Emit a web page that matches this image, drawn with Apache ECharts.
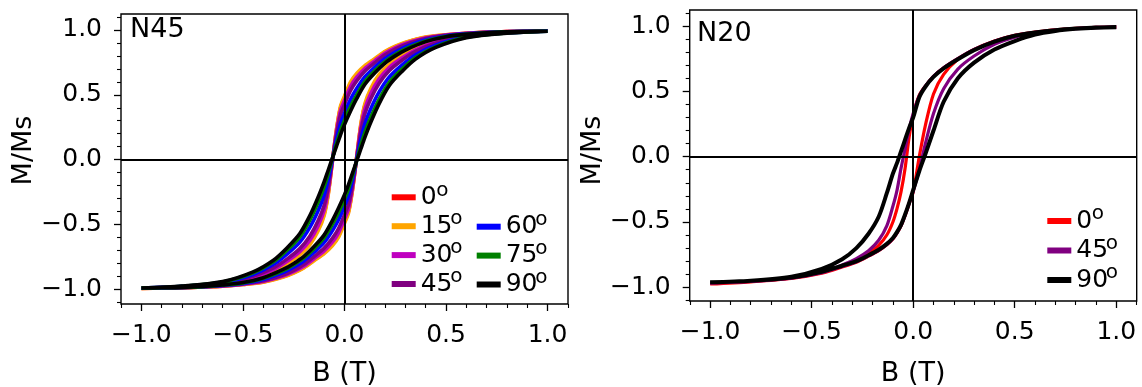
<!DOCTYPE html>
<html>
<head>
<meta charset="utf-8">
<title>Normalised hysteresis loops N45 / N20</title>
<script src="https://cdn.jsdelivr.net/npm/echarts@6.0.0/dist/echarts.min.js"></script>
<style>
  html, body { margin: 0; padding: 0; background: #fff; }
  #chart { width: 1142px; height: 387px; }
</style>
</head>
<body>
<div id="chart"></div>
<script>
// ---------- N45: field grid for the descending (+1 -> -1) and ascending (-1 -> +1) branches ----------
const n45FieldDown = [1.0, 0.9, 0.8, 0.7, 0.6, 0.5, 0.4, 0.3, 0.25, 0.2, 0.15, 0.1, 0.06, 0.03, 0.0, -0.02, -0.04, -0.06, -0.08, -0.1, -0.13, -0.17, -0.22, -0.28, -0.35, -0.45, -0.6, -0.8, -1.0];
const n45FieldUp   = [-1.0, -0.9, -0.8, -0.7, -0.6, -0.5, -0.4, -0.3, -0.25, -0.2, -0.15, -0.1, -0.06, -0.03, 0.0, 0.02, 0.04, 0.06, 0.08, 0.1, 0.13, 0.17, 0.22, 0.28, 0.35, 0.45, 0.6, 0.8, 1.0];

// M/Ms for each angle, descending branch then ascending branch
const n45Deg0Down  = [0.993, 0.990, 0.987, 0.982, 0.975, 0.962, 0.943, 0.902, 0.871, 0.831, 0.775, 0.718, 0.655, 0.589, 0.479, 0.399, 0.224, -0.019, -0.261, -0.417, -0.537, -0.644, -0.727, -0.794, -0.856, -0.913, -0.959, -0.980, -0.993];
const n45Deg0Up    = [-0.993, -0.990, -0.987, -0.982, -0.975, -0.962, -0.943, -0.902, -0.871, -0.831, -0.775, -0.718, -0.655, -0.589, -0.479, -0.399, -0.224, 0.019, 0.261, 0.417, 0.537, 0.644, 0.727, 0.794, 0.856, 0.913, 0.959, 0.980, 0.993];
const n45Deg15Down = [0.993, 0.990, 0.987, 0.982, 0.975, 0.963, 0.945, 0.905, 0.875, 0.835, 0.780, 0.725, 0.665, 0.600, 0.490, 0.410, 0.230, -0.020, -0.270, -0.430, -0.550, -0.655, -0.735, -0.800, -0.860, -0.915, -0.960, -0.980, -0.993];
const n45Deg15Up   = [-0.993, -0.990, -0.987, -0.982, -0.975, -0.963, -0.945, -0.905, -0.875, -0.835, -0.780, -0.725, -0.665, -0.600, -0.490, -0.410, -0.230, 0.020, 0.270, 0.430, 0.550, 0.655, 0.735, 0.800, 0.860, 0.915, 0.960, 0.980, 0.993];
const n45Deg30Down = [0.992, 0.990, 0.987, 0.981, 0.974, 0.961, 0.940, 0.896, 0.864, 0.822, 0.764, 0.703, 0.636, 0.566, 0.457, 0.377, 0.211, -0.016, -0.242, -0.391, -0.511, -0.621, -0.710, -0.781, -0.847, -0.908, -0.957, -0.979, -0.992];
const n45Deg30Up   = [-0.992, -0.990, -0.987, -0.981, -0.974, -0.961, -0.940, -0.896, -0.864, -0.822, -0.764, -0.703, -0.636, -0.566, -0.457, -0.377, -0.211, 0.016, 0.242, 0.391, 0.511, 0.621, 0.710, 0.781, 0.847, 0.908, 0.957, 0.979, 0.992];
const n45Deg45Down = [0.992, 0.989, 0.986, 0.981, 0.972, 0.958, 0.934, 0.887, 0.853, 0.808, 0.747, 0.682, 0.607, 0.533, 0.424, 0.344, 0.191, -0.011, -0.213, -0.352, -0.472, -0.588, -0.686, -0.763, -0.835, -0.900, -0.954, -0.979, -0.992];
const n45Deg45Up   = [-0.992, -0.989, -0.986, -0.981, -0.972, -0.958, -0.934, -0.887, -0.853, -0.808, -0.747, -0.682, -0.607, -0.533, -0.424, -0.344, -0.191, 0.011, 0.213, 0.352, 0.472, 0.588, 0.686, 0.763, 0.835, 0.900, 0.954, 0.979, 0.992];
const n45Deg60Down = [0.991, 0.989, 0.986, 0.980, 0.970, 0.954, 0.924, 0.869, 0.830, 0.781, 0.714, 0.638, 0.548, 0.465, 0.358, 0.278, 0.152, -0.002, -0.156, -0.274, -0.394, -0.520, -0.636, -0.725, -0.809, -0.885, -0.948, -0.977, -0.991];
const n45Deg60Up   = [-0.991, -0.989, -0.986, -0.980, -0.970, -0.954, -0.924, -0.869, -0.830, -0.781, -0.714, -0.638, -0.548, -0.465, -0.358, -0.278, -0.152, 0.002, 0.156, 0.274, 0.394, 0.520, 0.636, 0.725, 0.809, 0.885, 0.948, 0.977, 0.991];
const n45Deg75Down = [0.990, 0.988, 0.985, 0.979, 0.967, 0.950, 0.915, 0.854, 0.811, 0.758, 0.687, 0.602, 0.499, 0.409, 0.303, 0.223, 0.120, 0.006, -0.109, -0.209, -0.329, -0.464, -0.595, -0.694, -0.788, -0.872, -0.943, -0.976, -0.990];
const n45Deg75Up   = [-0.990, -0.988, -0.985, -0.979, -0.967, -0.950, -0.915, -0.854, -0.811, -0.758, -0.687, -0.602, -0.499, -0.409, -0.303, -0.223, -0.120, -0.006, 0.109, 0.209, 0.329, 0.464, 0.595, 0.694, 0.788, 0.872, 0.943, 0.976, 0.990];
const n45Deg90Down = [0.990, 0.988, 0.985, 0.978, 0.966, 0.948, 0.910, 0.845, 0.800, 0.745, 0.670, 0.580, 0.470, 0.375, 0.270, 0.190, 0.100, 0.010, -0.080, -0.170, -0.290, -0.430, -0.570, -0.675, -0.775, -0.865, -0.940, -0.975, -0.990];
const n45Deg90Up   = [-0.990, -0.988, -0.985, -0.978, -0.966, -0.948, -0.910, -0.845, -0.800, -0.745, -0.670, -0.580, -0.470, -0.375, -0.270, -0.190, -0.100, -0.010, 0.080, 0.170, 0.290, 0.430, 0.570, 0.675, 0.775, 0.865, 0.940, 0.975, 0.990];

// ---------- N20 ----------
const n20FieldDown = [1.0, 0.9, 0.8, 0.7, 0.6, 0.5, 0.4, 0.3, 0.22, 0.15, 0.1, 0.06, 0.03, 0.0, -0.02, -0.04, -0.06, -0.08, -0.1, -0.13, -0.17, -0.22, -0.28, -0.35, -0.45, -0.6, -0.8, -1.0];
const n20FieldUp   = [-1.0, -0.8, -0.6, -0.45, -0.35, -0.28, -0.22, -0.17, -0.13, -0.1, -0.08, -0.06, -0.04, -0.02, 0.0, 0.03, 0.06, 0.1, 0.15, 0.22, 0.3, 0.4, 0.5, 0.6, 0.7, 0.8, 0.9, 1.0];

const n20Deg0Down  = [0.992, 0.990, 0.982, 0.970, 0.953, 0.928, 0.885, 0.820, 0.750, 0.680, 0.615, 0.540, 0.470, 0.320, 0.150, -0.090, -0.270, -0.400, -0.500, -0.600, -0.680, -0.745, -0.800, -0.845, -0.892, -0.932, -0.958, -0.975];
const n20Deg0Up    = [-0.975, -0.958, -0.932, -0.892, -0.845, -0.808, -0.762, -0.720, -0.675, -0.630, -0.585, -0.530, -0.450, -0.360, -0.270, 0.000, 0.240, 0.480, 0.630, 0.745, 0.820, 0.885, 0.928, 0.953, 0.970, 0.982, 0.990, 0.992];
const n20Deg45Down = [0.991, 0.989, 0.981, 0.969, 0.952, 0.927, 0.884, 0.820, 0.750, 0.680, 0.615, 0.540, 0.465, 0.330, 0.210, 0.060, -0.090, -0.260, -0.380, -0.530, -0.640, -0.720, -0.780, -0.830, -0.885, -0.928, -0.955, -0.968];
const n20Deg45Up   = [-0.968, -0.955, -0.930, -0.888, -0.840, -0.805, -0.760, -0.718, -0.673, -0.628, -0.583, -0.528, -0.448, -0.358, -0.265, -0.100, 0.100, 0.330, 0.520, 0.670, 0.770, 0.860, 0.915, 0.948, 0.968, 0.980, 0.988, 0.991];
const n20Deg90Down = [0.990, 0.988, 0.980, 0.968, 0.950, 0.925, 0.880, 0.815, 0.745, 0.675, 0.610, 0.535, 0.455, 0.300, 0.220, 0.130, 0.040, -0.050, -0.130, -0.280, -0.460, -0.590, -0.700, -0.785, -0.860, -0.920, -0.950, -0.962];
const n20Deg90Up   = [-0.962, -0.950, -0.925, -0.882, -0.835, -0.800, -0.755, -0.713, -0.668, -0.623, -0.578, -0.522, -0.443, -0.353, -0.255, -0.110, 0.020, 0.200, 0.420, 0.600, 0.720, 0.820, 0.885, 0.935, 0.962, 0.978, 0.987, 0.990];

// Legend / series labels and labelled tick positions
const n45Angles = ['0', '15', '30', '45', '60', '75', '90'];
const n20Angles = ['0', '45', '90'];
const majorTicks = [-1.0, -0.5, 0.0, 0.5, 1.0];

const FONT = 'DejaVu Sans';

// join the two branches of a loop into one [B, M] path
function loopPath(fieldDown, mDown, fieldUp, mUp) {
  const pts = [];
  fieldDown.forEach((b, i) => pts.push([b, mDown[i]]));
  fieldUp.forEach((b, i) => pts.push([b, mUp[i]]));
  return pts;
}

const n45Loops = [
  { angle: n45Angles[0], color: '#ff0000', down: n45Deg0Down,  up: n45Deg0Up },
  { angle: n45Angles[1], color: '#ffa500', down: n45Deg15Down, up: n45Deg15Up },
  { angle: n45Angles[2], color: '#bf00bf', down: n45Deg30Down, up: n45Deg30Up },
  { angle: n45Angles[3], color: '#800080', down: n45Deg45Down, up: n45Deg45Up },
  { angle: n45Angles[4], color: '#0000ff', down: n45Deg60Down, up: n45Deg60Up },
  { angle: n45Angles[5], color: '#008000', down: n45Deg75Down, up: n45Deg75Up },
  { angle: n45Angles[6], color: '#000000', down: n45Deg90Down, up: n45Deg90Up }
];
const n20Loops = [
  { angle: n20Angles[0], color: '#ff0000', down: n20Deg0Down,  up: n20Deg0Up,  width: 3.2 },
  { angle: n20Angles[1], color: '#800080', down: n20Deg45Down, up: n20Deg45Up, width: 3.2 },
  { angle: n20Angles[2], color: '#000000', down: n20Deg90Down, up: n20Deg90Up, width: 4 }
];

const series = [];
n45Loops.forEach(l => {
  series.push({
    name: 'N45 ' + l.angle, type: 'line', xAxisIndex: 0, yAxisIndex: 0,
    data: loopPath(n45FieldDown, l.down, n45FieldUp, l.up),
    showSymbol: false, symbol: 'none', smooth: 0.3, color: l.color,
    lineStyle: { width: 3.6, color: l.color }, itemStyle: { color: l.color },
    z: 2, animation: false
  });
});
n20Loops.forEach(l => {
  series.push({
    name: 'N20 ' + l.angle, type: 'line', xAxisIndex: 1, yAxisIndex: 1,
    data: loopPath(n20FieldDown, l.down, n20FieldUp, l.up),
    showSymbol: false, symbol: 'none', smooth: 0.3, color: l.color,
    lineStyle: { width: l.width, color: l.color }, itemStyle: { color: l.color },
    z: 2, animation: false
  });
});

// B = 0 and M = 0 reference lines on both panels
[0, 1].forEach(i => {
  series.push({
    type: 'line', xAxisIndex: i, yAxisIndex: i, data: [], z: 10, animation: false,
    markLine: {
      silent: true, symbol: ['none', 'none'], label: { show: false }, animation: false,
      lineStyle: { color: '#000', width: 2, type: 'solid' },
      emphasis: { disabled: true },
      data: [{ xAxis: 0 }, { yAxis: 0 }]
    }
  });
});

const tickFormatter = v => (Math.abs(v) > 1.05 ? '' : v.toFixed(1).replace('-', '\u2212'));

function xAxisCfg(gridIndex, nameGap) {
  return {
    gridIndex, type: 'value', min: -1.1005, max: 1.1005,
    name: 'B (T)', nameLocation: 'middle', nameGap,
    nameTextStyle: { fontFamily: FONT, fontSize: 27, color: '#000' },
    axisLine: { show: false, onZero: false },
    axisTick: { show: true, length: 7, customValues: majorTicks, lineStyle: { color: '#000', width: 1.3 } },
    minorTick: { show: true, splitNumber: 5, length: 4, lineStyle: { color: '#000', width: 1.1 } },
    axisLabel: { margin: 19, fontFamily: FONT, fontSize: 25, color: '#000', customValues: majorTicks, formatter: tickFormatter },
    splitLine: { show: false }, minorSplitLine: { show: false }
  };
}
function yAxisCfg(gridIndex, min, max, nameGap, shift) {
  return {
    gridIndex, type: 'value', min, max,
    name: 'M/Ms', nameLocation: 'middle', nameGap,
    nameTextStyle: { fontFamily: FONT, fontSize: 27, color: '#000', padding: [0, 0, 0, shift] },
    axisLine: { show: false, onZero: false },
    axisTick: { show: true, length: 7, customValues: majorTicks, lineStyle: { color: '#000', width: 1.3 } },
    minorTick: { show: true, splitNumber: 5, length: 4, lineStyle: { color: '#000', width: 1.1 } },
    axisLabel: { margin: 19, fontFamily: FONT, fontSize: 25, color: '#000', customValues: majorTicks, formatter: tickFormatter },
    splitLine: { show: false }, minorSplitLine: { show: false }
  };
}

// legend blocks: icon column x, first row centre, row pitch
const ICON_W = 24, TEXT_GAP = 5, ROW_TEXT_H = 25;
const legendBlocks = [
  { names: n45Angles.slice(0, 4).map(a => 'N45 ' + a), x: 391.7, y0: 197.3, pitch: 28.9 },
  { names: n45Angles.slice(4).map(a => 'N45 ' + a),    x: 476.7, y0: 226.7, pitch: 28.9 },
  { names: n20Angles.map(a => 'N20 ' + a),             x: 1047.3, y0: 221.0, pitch: 29.5 }
];

const legends = legendBlocks.map(b => ({
  data: b.names, orient: 'vertical', left: b.x, top: b.y0 - ROW_TEXT_H / 2, padding: 0,
  itemWidth: ICON_W, itemHeight: 6, itemGap: b.pitch - ROW_TEXT_H, icon: 'rect',
  selectedMode: false,
  textStyle: { fontFamily: FONT, fontSize: 25, lineHeight: ROW_TEXT_H, color: '#000' },
  formatter: name => name.split(' ')[1]
}));

// raised small "o" after each angle number
const degreeMarks = [];
legendBlocks.forEach(b => {
  b.names.forEach((name, i) => {
    const digits = name.split(' ')[1].length;
    degreeMarks.push({
      type: 'text', silent: true, z: 20,
      x: b.x + ICON_W + TEXT_GAP + (digits === 1 ? 15.5 : 29.5),
      y: b.y0 + i * b.pitch - 7,
      style: { text: 'o', fontFamily: FONT, fontSize: 20, fill: '#000', verticalAlign: 'middle', align: 'left' }
    });
  });
});

const option = {
  animation: false,
  backgroundColor: '#ffffff',
  title: [
    { text: 'N45', left: 130, top: 16, padding: 0, textStyle: { fontFamily: FONT, fontSize: 27, fontWeight: 'normal', color: '#000' } },
    { text: 'N20', left: 697, top: 20, padding: 0, textStyle: { fontFamily: FONT, fontSize: 27, fontWeight: 'normal', color: '#000' } }
  ],
  grid: [
    { left: 121, top: 14, width: 447, height: 290, show: true, borderColor: '#000', borderWidth: 1.4, backgroundColor: 'transparent', containLabel: false, outerBoundsMode: 'none' },
    { left: 689.7, top: 10, width: 447, height: 291, show: true, borderColor: '#000', borderWidth: 1.4, backgroundColor: 'transparent', containLabel: false, outerBoundsMode: 'none' }
  ],
  xAxis: [xAxisCfg(0, 56), xAxisCfg(1, 59)],
  yAxis: [yAxisCfg(0, -1.113, 1.123, 83, 17), yAxisCfg(1, -1.105, 1.1225, 82, 10)],
  legend: legends,
  graphic: degreeMarks,
  series
};

const chart = echarts.init(document.getElementById('chart'), null, { renderer: 'canvas' });
chart.setOption(option);
</script>
</body>
</html>
